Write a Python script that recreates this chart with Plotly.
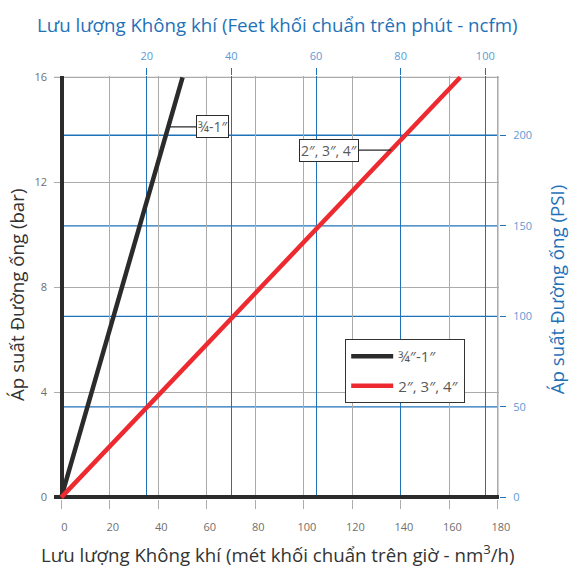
import numpy as np
import plotly.graph_objects as go

# ---- data ----
series_names = ["¾″-1″", "2″, 3″, 4″"]
pressure_bar = [0, 16]
flow_small = [0, 50]      # nm3/h for 3/4"-1"
flow_large = [0, 164.5]   # nm3/h for 2", 3", 4"
x_ticks = [0, 20, 40, 60, 80, 100, 120, 140, 160, 180]
y_ticks = [0, 4, 8, 12, 16]
ncfm_ticks = [20, 40, 60, 80, 100]
psi_ticks = [0, 50, 100, 150, 200]
psi_per_bar = 14.5

# ---- layout geometry (pixels) ----
W, H = 578, 570
L, R = 54, 498.7
T, B = 75.9, 499.1
pw, ph = R - L, B - T

def px(xp):
    return (xp - L) / pw

def py(yp):
    return (B - yp) / ph

BLUE = "#1f72b8"
BLUE_LBL = "#5b9bd5"
GRAY = "#ababab"
DARK = "#2b2b2b"
RED = "#ec2a2f"
TXT = "#6f6f6f"
FONT = "Open Sans"

x_range = [-3.0, 180.45]
y_range = [-0.06, 16.05]
x2_range = [-8.1 / 4.229, (R - 62.1) / 4.229]

fig = go.Figure()
fig.add_trace(go.Scatter(x=flow_small, y=pressure_bar, mode="lines", name=series_names[0],
                         line=dict(color=DARK, width=4.5), legendgroup="a"))
fig.add_trace(go.Scatter(x=flow_large, y=pressure_bar, mode="lines", name=series_names[1],
                         line=dict(color=RED, width=4.5), legendgroup="b"))
# invisible traces so secondary axes exist
fig.add_trace(go.Scatter(x=[None], y=[None], xaxis="x2", yaxis="y", showlegend=False, hoverinfo="skip"))
fig.add_trace(go.Scatter(x=[None], y=[None], xaxis="x", yaxis="y2", showlegend=False, hoverinfo="skip"))

tickfont_gray = dict(family=FONT, size=11, color=TXT)
tickfont_blue = dict(family=FONT, size=11, color=BLUE_LBL)

fig.update_layout(
    width=W, height=H,
    margin=dict(l=L, r=W - R, t=T, b=H - B, pad=0),
    paper_bgcolor="white", plot_bgcolor="white",
    font=dict(family=FONT),
    xaxis=dict(range=x_range, tickvals=x_ticks, showgrid=True, gridcolor=GRAY, gridwidth=1.3,
               zeroline=False, showline=False, ticks="outside", ticklen=9, tickcolor=GRAY,
               tickwidth=1.3, tickfont=tickfont_gray, ticklabelstandoff=9, ticklabelshift=3,
               fixedrange=True),
    yaxis=dict(range=y_range, tickvals=y_ticks, showgrid=True, gridcolor=GRAY, gridwidth=1.3,
               zeroline=True, zerolinecolor=DARK, zerolinewidth=4, showline=False,
               ticks="", tickfont=tickfont_gray, ticklabelstandoff=6, fixedrange=True),
    xaxis2=dict(range=x2_range, overlaying="x", side="top", anchor="y", tickvals=ncfm_ticks,
                showgrid=True, gridcolor=BLUE, gridwidth=1.3, zeroline=True, zerolinecolor=DARK,
                zerolinewidth=4, ticks="outside", ticklen=7, tickcolor=BLUE, tickwidth=1.3,
                tickfont=tickfont_blue, ticklabelstandoff=4, fixedrange=True),
    yaxis2=dict(range=[y_range[0] * psi_per_bar, y_range[1] * psi_per_bar], overlaying="y",
                side="right", anchor="x", tickvals=psi_ticks, showgrid=False, zeroline=False,
                ticks="outside", ticklen=6, tickcolor=BLUE, tickwidth=1.3,
                tickfont=tickfont_blue, ticklabelstandoff=5, fixedrange=True),
    legend=dict(x=px(345), y=py(339), xanchor="left", yanchor="top",
                bgcolor="white", bordercolor="#333333", borderwidth=1,
                font=dict(family=FONT, size=15, color="#595959"), tracegroupgap=7,
                itemwidth=42),
    showlegend=True,
)

# top and right borders
fig.add_shape(type="line", xref="paper", yref="y", x0=0, x1=px(497.6), y0=16, y1=16,
              line=dict(color=GRAY, width=1.3), layer="below")
fig.add_shape(type="line", xref="x", yref="paper", x0=180, x1=180, y0=0, y1=py(T),
              line=dict(color=GRAY, width=1.3), layer="below")
# blue PSI gridlines
for v in psi_ticks[1:]:
    fig.add_shape(type="line", xref="x", yref="y2", x0=0, x1=180, y0=v, y1=v,
                  line=dict(color=BLUE, width=1.3), layer="below")

# titles
title_kw = dict(xref="paper", yref="paper", showarrow=False, xanchor="center", yanchor="middle")
fig.add_annotation(text="Lưu lượng Không khí (Feet khối chuẩn trên phút - ncfm)",
                   x=px(277.5), y=py(24), font=dict(family=FONT, size=18.7, color=BLUE), **title_kw)
fig.add_annotation(text="Lưu lượng Không khí (mét khối chuẩn trên giờ - nm<sup>3</sup>/h)",
                   x=px(278), y=py(554), font=dict(family=FONT, size=18.7, color="#333333"), **title_kw)
fig.add_annotation(text="Áp suất Đường ống (bar)", x=px(17), y=py(295), textangle=-90,
                   font=dict(family=FONT, size=18.7, color="#333333"), **title_kw)
fig.add_annotation(text="Áp suất Đường ống (PSI)", x=px(557), y=py(289), textangle=-90,
                   font=dict(family=FONT, size=18.7, color=BLUE), **title_kw)

# callout labels on the lines
lbl_small_y = 14.11
lbl_large_y = 13.23
fig.add_annotation(text="¾-1″", x=float(np.interp(lbl_small_y, pressure_bar, flow_small)),
                   y=lbl_small_y, xref="x", yref="y", showarrow=True, arrowhead=0,
                   arrowwidth=1.2, arrowcolor=DARK, ax=44, ay=0,
                   bgcolor="white", bordercolor=DARK, borderwidth=1, borderpad=1,
                   font=dict(family=FONT, size=14, color="#595959"))
fig.add_annotation(text="2″, 3″, 4″", x=float(np.interp(lbl_large_y, pressure_bar, flow_large)),
                   y=lbl_large_y, xref="x", yref="y", showarrow=True, arrowhead=0,
                   arrowwidth=1.2, arrowcolor=DARK, ax=-62, ay=0,
                   bgcolor="white", bordercolor=DARK, borderwidth=1, borderpad=1,
                   font=dict(family=FONT, size=14, color="#595959"))

fig.write_html("out.html", config={"displayModeBar": False},
               post_script="document.body.style.margin='0px';document.body.style.overflow='hidden';")
